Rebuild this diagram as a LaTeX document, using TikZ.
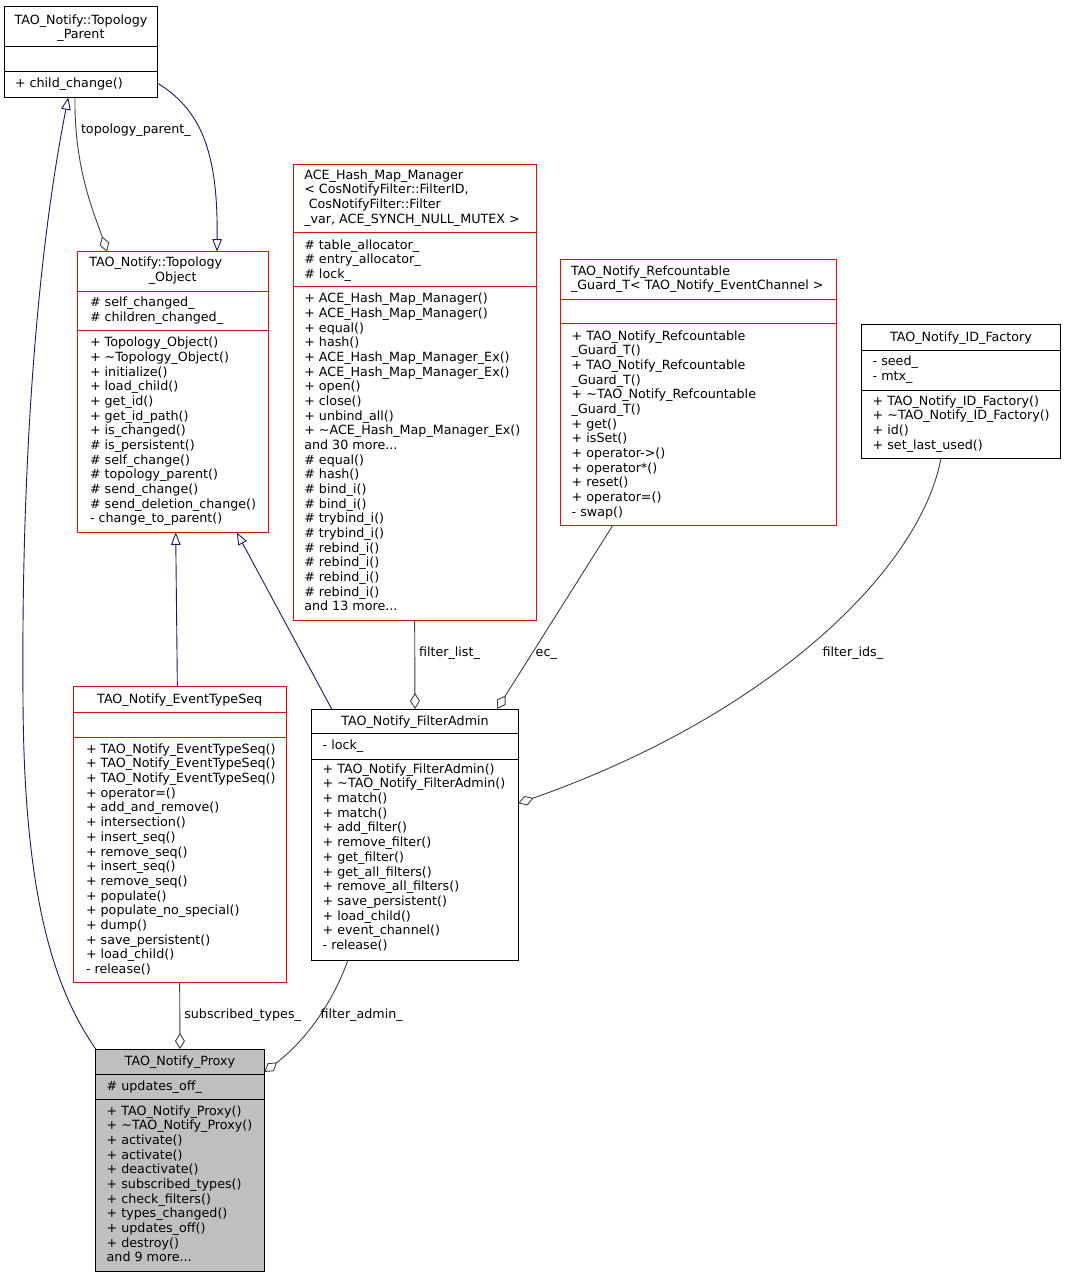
\documentclass[tikz,border=0pt]{standalone}
\usepackage{fontspec}
\setmainfont{DejaVu Sans}
\usetikzlibrary{arrows.meta}
\definecolor{inh}{RGB}{25,25,112}
\definecolor{agg}{RGB}{64,64,64}
\definecolor{boxred}{RGB}{255,0,0}
\definecolor{proxyfill}{RGB}{191,191,191}
\newcommand\tdots{...}
\tikzset{
 cls/.style={draw, line width=0.9pt, inner sep=0pt, outer sep=0pt, anchor=north west, fill=white},
 txt/.style={inner sep=0pt, outer sep=0pt, font=\fontsize{12.7}{14.67}\selectfont},
 inhline/.style={draw=inh, line width=0.9pt, -{Triangle[open, length=12.5pt, width=9.5pt]}},
 aggline/.style={draw=agg, line width=0.9pt, -{Diamond[open, length=16pt, width=10pt]}},
 lbl/.style={txt, anchor=base west},
}
\newcommand\memlines[4]{\foreach \mt [count=\mi from 0] in {#4}{\node[txt, anchor=base west] (#1\mi) at (#2,{#3+14.67*\mi}) {\mt};}}
\begin{document}
\begin{tikzpicture}[x=1pt,y=-1pt]
\fill[white] (0,0) rectangle (1067,1277);
\useasboundingbox (0,0) rectangle (1067,1277);

% ---------- boxes ----------
\node[cls, draw=black, minimum width=153.2pt, minimum height=90.6pt] (TP) at (4.5,6.7) {};
\node[cls, draw=boxred, minimum width=190.6pt, minimum height=280.6pt] (TO) at (77.7,251.7) {};
\node[cls, draw=boxred, minimum width=242.7pt, minimum height=456pt] (HM) at (293.3,164) {};
\node[cls, draw=boxred, minimum width=276pt, minimum height=266pt] (RG) at (560.7,259) {};
\node[cls, draw=black, minimum width=199pt, minimum height=134pt] (IDF) at (861.7,324.3) {};
\node[cls, draw=boxred, minimum width=212.7pt, minimum height=296pt] (ETS) at (73.3,686.7) {};
\node[cls, draw=black, minimum width=206.6pt, minimum height=251pt] (FA) at (311.7,709) {};
\node[cls, draw=black, fill=proxyfill, minimum width=168.6pt, minimum height=222pt] (PX) at (95.7,1049) {};

% ---------- separators ----------
\begin{scope}[line width=0.9pt]
\draw (4.5,46.7) -- (157.7,46.7);
\draw (4.5,71.7) -- (157.7,71.7);
\draw[boxred] (77.7,291.7) -- (268.3,291.7);
\draw[boxred] (77.7,330.7) -- (268.3,330.7);
\draw[boxred] (293.3,232.3) -- (536,232.3);
\draw[boxred] (293.3,286.7) -- (536,286.7);
\draw[boxred] (560.7,299) -- (836.7,299);
\draw[boxred] (560.7,323.3) -- (836.7,323.3);
\draw (861.7,350) -- (1060.7,350);
\draw (861.7,390) -- (1060.7,390);
\draw[boxred] (73.3,712) -- (286,712);
\draw[boxred] (73.3,737.3) -- (286,737.3);
\draw (311.7,733.3) -- (518.3,733.3);
\draw (311.7,759) -- (518.3,759);
\draw (95.7,1074) -- (264.3,1074);
\draw (95.7,1099) -- (264.3,1099);
\end{scope}

% ---------- texts ----------
% Topology_Parent
\node[txt, anchor=base] (TPt0) at (81,24) {TAO\_Notify::Topology};
\node[txt, anchor=base] (TPt1) at (81,38.5) {\_Parent};
\node[txt, anchor=base west] (TPm0) at (15,87.3) {+ child\_change()};

% Topology_Object
\node[txt, anchor=base west] (TOt0) at (89.3,266.7) {TAO\_Notify::Topology};
\node[txt, anchor=base] (TOt1) at (172.7,281.3) {\_Object};
\memlines{TOa}{90}{306.7}{\# self\_changed\_, \# children\_changed\_}
\memlines{TOm}{90}{346.7}{+ Topology\_Object(), + \textasciitilde Topology\_Object(), + initialize(), + load\_child(), + get\_id(), + get\_id\_path(), + is\_changed(), \# is\_persistent(), \# self\_change(), \# topology\_parent(), \# send\_change(), \# send\_deletion\_change(), - change\_to\_parent()}

% ACE_Hash_Map_Manager
\memlines{HMt}{304.3}{179.3}{ACE\_Hash\_Map\_Manager, {< CosNotifyFilter::FilterID,}, {\hspace*{4.5pt}CosNotifyFilter::Filter}, {\_var, ACE\_SYNCH\_NULL\_MUTEX >}}
\memlines{HMa}{304.3}{249}{\# table\_allocator\_, \# entry\_allocator\_, \# lock\_}
\memlines{HMm}{304.3}{302.7}{+ ACE\_Hash\_Map\_Manager(), + ACE\_Hash\_Map\_Manager(), + equal(), + hash(), + ACE\_Hash\_Map\_Manager\_Ex(), + ACE\_Hash\_Map\_Manager\_Ex(), + open(), + close(), + unbind\_all(), + \textasciitilde ACE\_Hash\_Map\_Manager\_Ex(), and 30 more\tdots, \# equal(), \# hash(), \# bind\_i(), \# bind\_i(), \# trybind\_i(), \# trybind\_i(), \# rebind\_i(), \# rebind\_i(), \# rebind\_i(), \# rebind\_i(), and 13 more\tdots}

% Refcountable guard
\memlines{RGt}{571}{275}{TAO\_Notify\_Refcountable, \_Guard\_T< TAO\_Notify\_EventChannel >}
\memlines{RGm}{571.7}{340}{+ TAO\_Notify\_Refcountable, \_Guard\_T(), + TAO\_Notify\_Refcountable, \_Guard\_T(), + \textasciitilde TAO\_Notify\_Refcountable, \_Guard\_T(), + get(), + isSet(), + operator->(), + operator*(), + reset(), + operator=(), - swap()}

% ID factory
\node[txt, anchor=base] (IDFt0) at (961,341) {TAO\_Notify\_ID\_Factory};
\memlines{IDFa}{872.7}{365.7}{- seed\_, - mtx\_}
\memlines{IDFm}{872.7}{405}{+ TAO\_Notify\_ID\_Factory(), + \textasciitilde TAO\_Notify\_ID\_Factory(), + id(), + set\_last\_used()}

% EventTypeSeq
\node[txt, anchor=base] (ETSt0) at (179.7,703.3) {TAO\_Notify\_EventTypeSeq};
\memlines{ETSm}{86}{753.3}{+ TAO\_Notify\_EventTypeSeq(), + TAO\_Notify\_EventTypeSeq(), + TAO\_Notify\_EventTypeSeq(), + operator=(), + add\_and\_remove(), + intersection(), + insert\_seq(), + remove\_seq(), + insert\_seq(), + remove\_seq(), + populate(), + populate\_no\_special(), + dump(), + save\_persistent(), + load\_child(), - release()}

% FilterAdmin
\node[txt, anchor=base] (FAt0) at (415,725) {TAO\_Notify\_FilterAdmin};
\node[txt, anchor=base west] (FAa0) at (322.7,749.3) {- lock\_};
\memlines{FAm}{322.7}{773.3}{+ TAO\_Notify\_FilterAdmin(), + \textasciitilde TAO\_Notify\_FilterAdmin(), + match(), + match(), + add\_filter(), + remove\_filter(), + get\_filter(), + get\_all\_filters(), + remove\_all\_filters(), + save\_persistent(), + load\_child(), + event\_channel(), - release()}

% Proxy
\node[txt, anchor=base] (PXt0) at (180,1065) {TAO\_Notify\_Proxy};
\node[txt, anchor=base west] (PXa0) at (106.7,1090) {\# updates\_off\_};
\memlines{PXm}{106.7}{1115}{+ TAO\_Notify\_Proxy(), + \textasciitilde TAO\_Notify\_Proxy(), + activate(), + activate(), + deactivate(), + subscribed\_types(), + check\_filters(), + types\_changed(), + updates\_off(), + destroy(), and 9 more\tdots}

% ---------- inheritance ----------
\draw[inhline] (PX.north west) .. controls (55,990) and (24,900) .. (23,700)
   .. controls (21,440) and (40,240) .. ([xshift=-12.8pt]TP.south);
\draw[inhline] ([xshift=-2.3pt]ETS.north) -- ([xshift=2.7pt]TO.south);
\draw[inhline] ([xshift=-83.3pt]FA.north) -- ([xshift=63.7pt]TO.south);
\draw[inhline] ([yshift=-31.3pt]TP.east) .. controls (205,112) and (218,160) .. ([xshift=44pt]TO.north);

% ---------- aggregation ----------
\draw[aggline] ([xshift=-6.1pt]TP.south) .. controls (74,170) and (95,215) .. ([xshift=-66pt]TO.north);
\draw[aggline] (HM.south) -- (FA.north);
\draw[aggline] ([xshift=-85.7pt]RG.south) -- ([xshift=82pt]FA.north);
\draw[aggline] ([xshift=-20.2pt]IDF.south) .. controls (920,570) and (770,715) .. ([yshift=31.2pt]FA.east);
\draw[aggline] (ETS.south) -- (PX.north);
\draw[aggline] ([xshift=-67pt]FA.south) .. controls (330,1010) and (300,1045) .. ([yshift=88pt]PX.east);

% ---------- labels ----------
\node[lbl] (l1) at (81,133.3) {topology\_parent\_};
\node[lbl] (l2) at (419,656.7) {filter\_list\_};
\node[lbl] (l3) at (535.7,656.7) {ec\_};
\node[lbl] (l4) at (822.7,656.7) {filter\_ids\_};
\node[lbl] (l5) at (184.3,1018.3) {subscribed\_types\_};
\node[lbl] (l6) at (320.7,1018.3) {filter\_admin\_};
\end{tikzpicture}
\end{document}
